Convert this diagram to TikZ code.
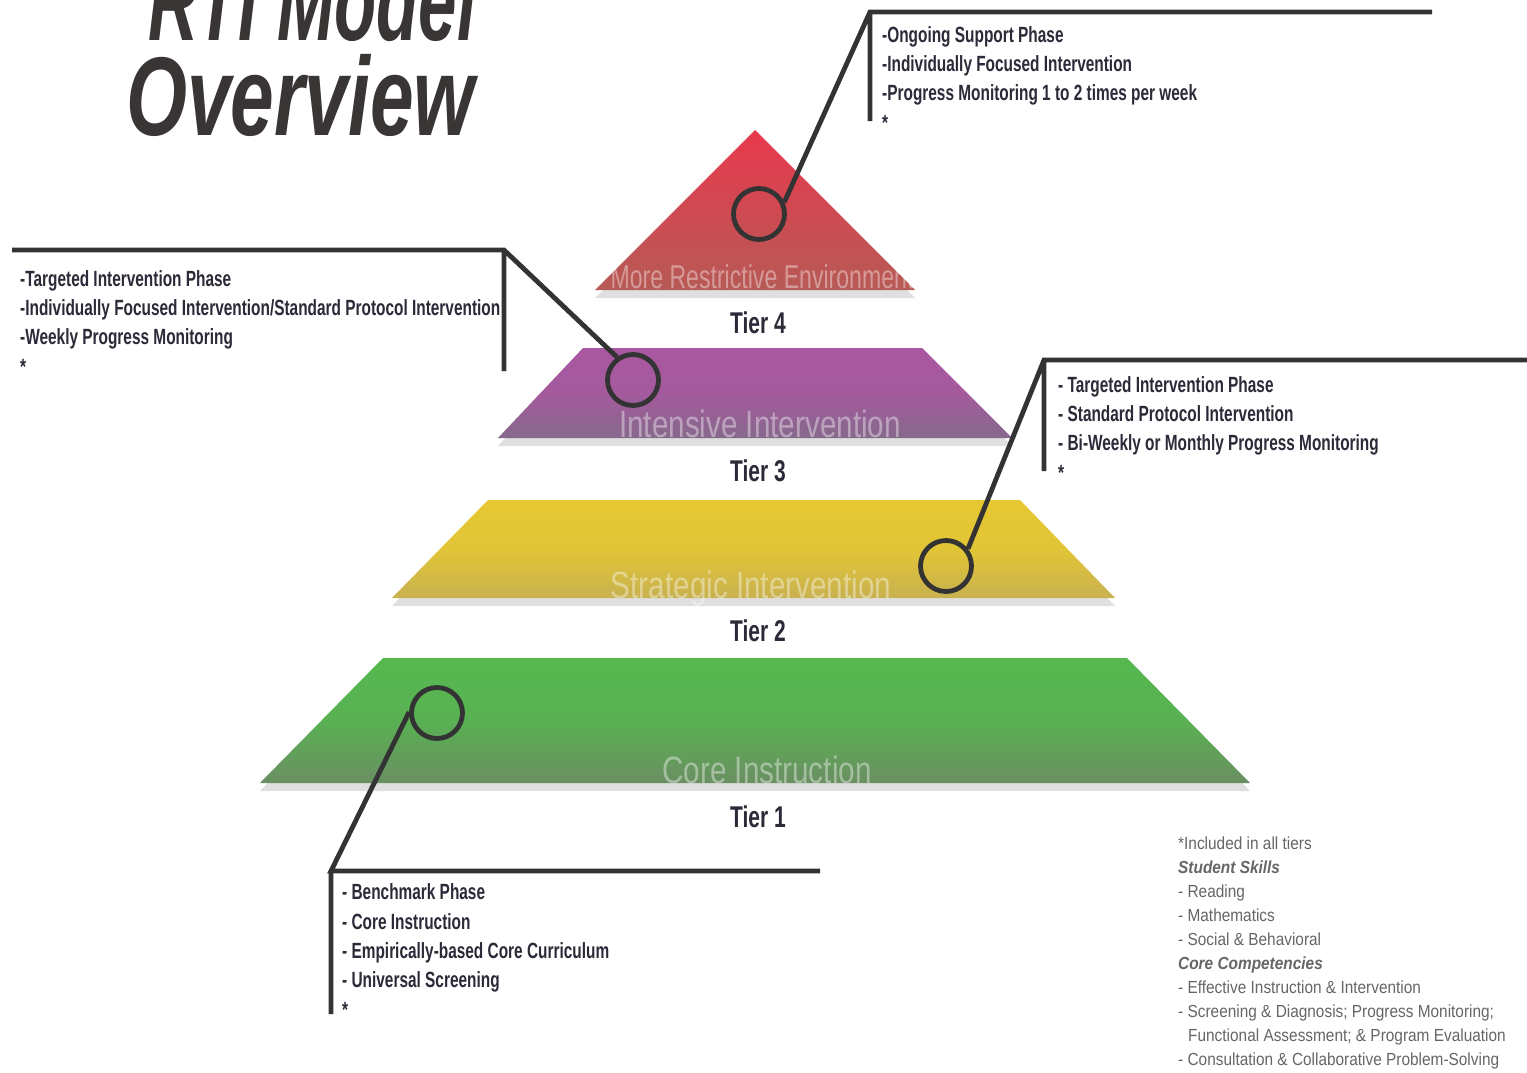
\documentclass[tikz,border=0pt]{standalone}
\usepackage{fontspec}
\usepackage{tikz}
\usetikzlibrary{shapes,arrows,positioning,calc,shadows}
\newfontfamily\condfont[FakeStretch=0.7]{Liberation Sans}
\newfontfamily\labelfont[FakeStretch=0.78]{Liberation Sans}
\newfontfamily\notefont[FakeStretch=0.88]{Liberation Sans}
\definecolor{inkdark}{HTML}{2A2A38}
\definecolor{titlegray}{HTML}{3A3535}
\definecolor{linegray}{HTML}{333333}
\definecolor{notegray}{HTML}{666666}
\definecolor{redtop}{HTML}{E8394E}
\definecolor{redbot}{HTML}{B65A55}
\definecolor{purtop}{HTML}{A957A0}
\definecolor{purbot}{HTML}{86698C}
\definecolor{yeltop}{HTML}{E6C832}
\definecolor{yelbot}{HTML}{C8B150}
\definecolor{grntop}{HTML}{55B94F}
\definecolor{grnbot}{HTML}{6A8F62}

\begin{document}
\begin{tikzpicture}[x=1pt,y=-1pt,
    tier/.style={drop shadow={shadow xshift=0pt,shadow yshift=-8pt,opacity=0.25}},
    loupe/.style={circle,draw=linegray,line width=4.8pt,minimum size=51pt,inner sep=0pt},
    callline/.style={draw=linegray,line width=4.8pt,line join=miter},
    calltext/.style={anchor=base west,align=left,inner sep=0pt,text=inkdark,
        font=\condfont\bfseries\fontsize{22}{29.3}\selectfont},
    tierlabel/.style={anchor=base,inner sep=0pt,text=inkdark,
        font=\condfont\bfseries\fontsize{30}{30}\selectfont},
    innerlabel/.style={anchor=base,inner sep=0pt,text=white,text opacity=0.4,
        font=\labelfont\fontsize{38}{38}\selectfont}]
    \useasboundingbox (0,0) rectangle (1527,1072);
    \fill[white] (0,0) rectangle (1527,1072);

    % Title
    \node[anchor=base west,inner sep=0pt,text=titlegray,
        font=\condfont\bfseries\itshape\fontsize{112}{112}\selectfont] (title1) at (148,40) {\scalebox{0.88}[1]{RTI Model}};
    \node[anchor=base west,inner sep=0pt,text=titlegray,
        font=\condfont\bfseries\itshape\fontsize{112}{112}\selectfont] (title2) at (126,135) {Overview};

    % Pyramid tiers
    \path[tier,top color=grntop,bottom color=grnbot,middle color=grntop!80!grnbot]
        (383,658) -- (1127,658) -- (1250,783) -- (260,783) -- cycle;
    \path[tier,top color=yeltop,bottom color=yelbot,middle color=yeltop!85!yelbot]
        (488,500) -- (1020,500) -- (1115,598) -- (392,598) -- cycle;
    \path[tier,top color=purtop,bottom color=purbot,middle color=purtop!85!purbot]
        (583,348) -- (922,348) -- (1012,438) -- (498,438) -- cycle;
    \path[tier,top color=redtop,bottom color=redbot]
        (755,130) -- (915,290) -- (595,290) -- cycle;

    % Tier names
    \node[innerlabel,font=\condfont\fontsize{33}{33}\selectfont] (env4) at (762,288) {More Restrictive Environment};
    \node[innerlabel] (env3) at (760,437) {Intensive Intervention};
    \node[innerlabel] (env2) at (751,598) {Strategic Intervention};
    \node[innerlabel] (env1) at (767,783) {Core Instruction};
    \node[tierlabel] (tier4) at (758,333) {Tier 4};
    \node[tierlabel] (tier3) at (758,481) {Tier 3};
    \node[tierlabel] (tier2) at (758,641) {Tier 2};
    \node[tierlabel] (tier1) at (758,827) {Tier 1};

    % Callout for tier 4
    \node[loupe] (c4) at (759,214) {};
    \coordinate (k4) at (870,12);
    \coordinate (e4) at (1432,12);
    \coordinate (v4) at (870,121);
    \draw[callline] (c4.25) -- (k4) -- (e4) (k4) -- (v4);
    \node[calltext] (t4) at (882,130) {-Ongoing Support Phase\\-Individually Focused Intervention\\-Progress Monitoring 1 to 2 times per week\\*};

    % Callout for tier 3
    \node[loupe] (c3) at (633,380) {};
    \coordinate (k3) at (504,250);
    \coordinate (e3) at (12,250);
    \coordinate (v3) at (504,371);
    \draw[callline] (c3.125) -- (k3) -- (e3) (k3) -- (v3);
    \node[calltext] (t3) at (20,374) {-Targeted Intervention Phase\\-Individually Focused Intervention/Standard Protocol Intervention\\-Weekly Progress Monitoring\\*};

    % Callout for tier 2
    \node[loupe] (c2) at (946,566) {};
    \coordinate (k2) at (1044,360);
    \coordinate (e2) at (1527,360);
    \coordinate (v2) at (1044,471);
    \draw[callline] (c2.38) -- (k2) -- (e2) (k2) -- (v2);
    \node[calltext] (t2) at (1058,480) {- Targeted Intervention Phase\\- Standard Protocol Intervention\\- Bi-Weekly or Monthly Progress Monitoring\\*};

    % Callout for tier 1
    \node[loupe] (c1) at (437,713) {};
    \coordinate (k1) at (331,871);
    \coordinate (e1) at (820,871);
    \coordinate (v1) at (331,1014);
    \draw[callline] (c1.178) -- (k1) -- (e1) (k1) -- (v1);
    \node[calltext] (t1) at (342,1017) {- Benchmark Phase\\- Core Instruction\\- Empirically-based Core Curriculum\\- Universal Screening\\*};

    % Note
    \node[anchor=base west,align=left,inner sep=0pt,text=notegray,
        font=\notefont\fontsize{17.5}{24}\selectfont] (note) at (1178,1065)
        {*Included in all tiers\\
        {\bfseries\itshape Student Skills}\\
        - Reading\\
        - Mathematics\\
        - Social \& Behavioral\\
        {\bfseries\itshape Core Competencies}\\
        - Effective Instruction \& Intervention\\
        - Screening \& Diagnosis; Progress Monitoring;\\
        \hspace*{10pt}Functional Assessment; \& Program Evaluation\\
        - Consultation \& Collaborative Problem-Solving};
\end{tikzpicture}
\end{document}
